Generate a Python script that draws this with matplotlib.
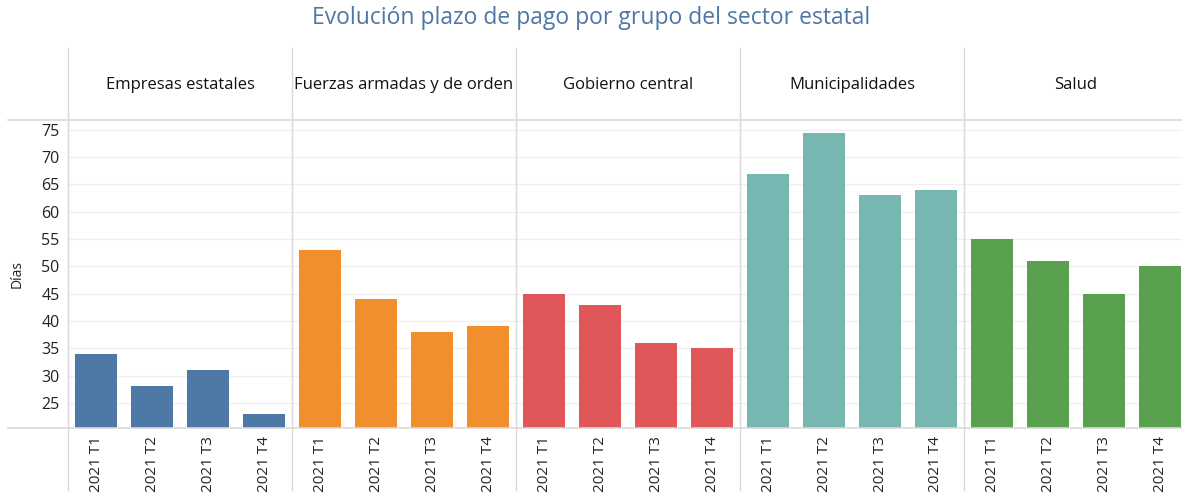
import matplotlib.pyplot as plt
import numpy as np

plt.rcParams['font.family'] = ['Open Sans', 'DejaVu Sans']

groups = ["Empresas estatales", "Fuerzas armadas y de orden", "Gobierno central",
          "Municipalidades", "Salud"]
quarters = ["2021 T1", "2021 T2", "2021 T3", "2021 T4"]
values = {
    "Empresas estatales": [34, 28, 31, 23],
    "Fuerzas armadas y de orden": [53, 44, 38, 39],
    "Gobierno central": [45, 43, 36, 35],
    "Municipalidades": [67, 74.5, 63, 64],
    "Salud": [55, 51, 45, 50],
}
colors = ["#4e79a7", "#f28e2b", "#e15759", "#76b7b2", "#59a14f"]
yticks = [25, 30, 35, 40, 45, 50, 55, 60, 65, 70, 75]

W, H = 1182, 497
fig = plt.figure(figsize=(W / 100, H / 100), dpi=100)

left = 68
top, bottom = 120, 428
pw = 224
grid_c = "#f0f0f0"
line_c = "#d9d9d9"

for i, g in enumerate(groups):
    x0 = left + i * pw
    ax = fig.add_axes([x0 / W, 1 - bottom / H, pw / W, (bottom - top) / H])
    ax.bar(np.arange(4), values[g], width=0.75, color=colors[i], zorder=3)
    ax.set_xlim(-0.5, 3.5)
    ax.set_ylim(20.4, 76.8)
    ax.set_yticks(yticks)
    for yv in yticks:
        ax.axhline(yv, color=grid_c, lw=1, zorder=1)
    for s in ["top", "right", "bottom"]:
        ax.spines[s].set_visible(False)
    ax.spines["left"].set_color(line_c)
    ax.set_xticks(np.arange(4))
    ax.set_xticklabels(quarters, rotation=90, fontsize=11, color="#222222")
    ax.tick_params(axis="x", length=0, pad=6)
    if i == 0:
        ax.tick_params(axis="y", length=0, labelsize=11.5, labelcolor="#222222", pad=6)
        ax.set_ylabel("Días", fontsize=10, color="#222222", labelpad=12)
    else:
        ax.tick_params(axis="y", length=0, labelleft=False)
    fig.text((x0 + pw / 2) / W, 1 - 85 / H, g, ha="center", va="center",
             fontsize=12, color="#111111")

# header / axis frame lines
for xp in [left + i * pw for i in range(len(groups))]:
    fig.add_artist(plt.Line2D([xp / W, xp / W], [1 - 48 / H, 1 - 490 / H],
                              color=line_c, lw=1))
fig.add_artist(plt.Line2D([8 / W, 1], [1 - top / H, 1 - top / H], color=line_c, lw=1.2))
fig.add_artist(plt.Line2D([8 / W, 1], [1 - bottom / H, 1 - bottom / H], color=line_c, lw=1.2))

fig.text(0.5, 1 - 18 / H, "Evolución plazo de pago por grupo del sector estatal",
         ha="center", va="center", fontsize=16.5, color="#4f76a6")

fig.savefig("out.png", dpi=100)
